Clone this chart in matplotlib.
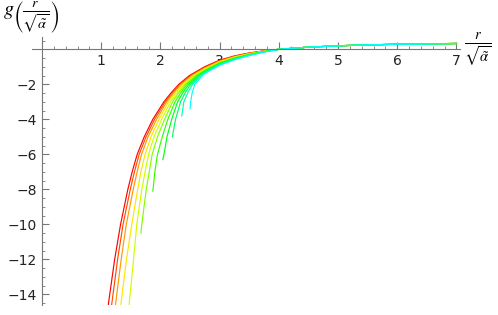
import numpy as np
import matplotlib.pyplot as plt
from matplotlib.colors import hsv_to_rgb
from matplotlib.ticker import MultipleLocator

plt.rcParams['mathtext.fontset'] = 'stix'

nan = np.nan

# steep part: r position of each curve (c1 red ... c11 cyan) at fixed g levels
g_levels = [-14.6, -12, -10, -8, -7, -6, -5, -4, -3, -2.5, -2, -1.5]
r_at_g = [
    [1.118, 1.175, 1.24, 1.33, 1.47, nan, nan, nan, nan, nan, nan],
    [1.226, 1.276, 1.336, 1.426, 1.545, nan, nan, nan, nan, nan, nan],
    [1.326, 1.368, 1.423, 1.515, 1.60, 1.685, nan, nan, nan, nan, nan],
    [1.449, 1.49, 1.54, 1.615, 1.685, 1.76, 1.875, nan, nan, nan, nan],
    [1.522, 1.56, 1.605, 1.67, 1.74, 1.81, 1.905, nan, nan, nan, nan],
    [1.607, 1.64, 1.68, 1.74, 1.80, 1.86, 1.95, 2.06, nan, nan, nan],
    [1.726, 1.756, 1.79, 1.84, 1.89, 1.95, 2.03, 2.11, nan, nan, nan],
    [1.871, 1.90, 1.935, 1.975, 2.02, 2.07, 2.125, 2.19, 2.255, nan, nan],
    [2.058, 2.08, 2.105, 2.135, 2.17, 2.205, 2.245, 2.29, 2.34, 2.395, 2.51],
    [2.177, 2.197, 2.22, 2.245, 2.275, 2.305, 2.34, 2.375, 2.415, 2.46, 2.535],
    [2.31, 2.33, 2.35, 2.375, 2.40, 2.425, 2.45, 2.48, 2.51, 2.54, 2.58],
    [2.49, 2.512, 2.534, 2.556, 2.578, 2.60, 2.622, 2.644, 2.666, 2.688, 2.71],
]

# lower end points (r, g) of the curves that stop; None = runs off the bottom
ends = [None, None, None, None, None,
        (1.67, -10.5), (1.87, -8.1), (2.04, -6.3), (2.20, -5.0), (2.36, -3.8), (2.50, -3.4)]

# flat part: g of each curve at fixed r
r_levels = [2.75, 3.0, 3.25, 3.5, 3.75, 4.0]
g_at_r = [
    [-0.99, -1.029, -1.068, -1.107, -1.146, -1.185, -1.224, -1.263, -1.302, -1.341, -1.38],
    [-0.62, -0.649, -0.678, -0.707, -0.736, -0.765, -0.794, -0.823, -0.852, -0.881, -0.91],
    [-0.38, -0.402, -0.424, -0.446, -0.468, -0.49, -0.512, -0.534, -0.556, -0.578, -0.60],
    [-0.21, -0.225, -0.24, -0.255, -0.27, -0.285, -0.30, -0.315, -0.33, -0.345, -0.36],
    [-0.09, -0.097, -0.104, -0.111, -0.118, -0.125, -0.132, -0.139, -0.146, -0.153, -0.16],
    [0.0, 0.0, 0.0, 0.0, 0.0, 0.0, 0.0, -0.002, -0.004, -0.006, -0.008],
]

# shared tail where all curves coincide
tail_r = [4.5, 5.0, 5.5, 6.0, 6.5, 7.0]
tail_g = [0.12, 0.198, 0.25, 0.286, 0.311, 0.33]

hues = [0.0, 0.05, 0.1, 0.15, 0.2, 0.25, 0.3, 0.35, 0.4, 0.45, 0.5]

fig = plt.figure(figsize=(4.98, 3.15), dpi=100)
ax = fig.add_axes([32 / 498, 10 / 315, 428 / 498, 268 / 315])

for i, h in enumerate(hues):
    r, g = [], []
    if ends[i] is not None:
        r.append(ends[i][0])
        g.append(ends[i][1])
    for lv, row in zip(g_levels, r_at_g):
        if not np.isnan(row[i]):
            r.append(row[i])
            g.append(lv)
    for rl, row in zip(r_levels, g_at_r):
        r.append(rl)
        g.append(row[i])
    r += tail_r
    g += tail_g
    ax.plot(r, g, color=hsv_to_rgb((h, 1, 1)), lw=0.85, solid_joinstyle='round')

ax.set_xlim(-0.17, 7.06)
ax.set_ylim(-14.6, 0.7)

for s in ['top', 'right']:
    ax.spines[s].set_visible(False)
ax.spines['left'].set_position(('data', 0))
ax.spines['bottom'].set_position(('data', 0))
for s in ['left', 'bottom']:
    ax.spines[s].set_color('#777777')
    ax.spines[s].set_linewidth(0.8)

ax.set_xticks([1, 2, 3, 4, 5, 6, 7])
ax.set_yticks([-2, -4, -6, -8, -10, -12, -14])
ax.set_yticklabels(['\u22122', '\u22124', '\u22126', '\u22128', '\u221210', '\u221212', '\u221214'])
ax.xaxis.set_minor_locator(MultipleLocator(0.2))
ax.yaxis.set_minor_locator(MultipleLocator(0.5))
ax.tick_params(which='both', colors='#777777', labelcolor='#222222', labelsize=10, direction='in')
ax.tick_params(which='major', length=5, width=0.8)
ax.tick_params(which='minor', length=2.5, width=0.6)

ax.text(-0.66, 0.8, r'$g\left(\frac{r}{\sqrt{\tilde{\alpha}}}\right)$', fontsize=14.5, va='bottom', ha='left')
ax.text(7.12, 0.0, r'$\frac{r}{\sqrt{\tilde{\alpha}}}$', fontsize=15, va='center', ha='left')

fig.savefig('out.png', dpi=100)
